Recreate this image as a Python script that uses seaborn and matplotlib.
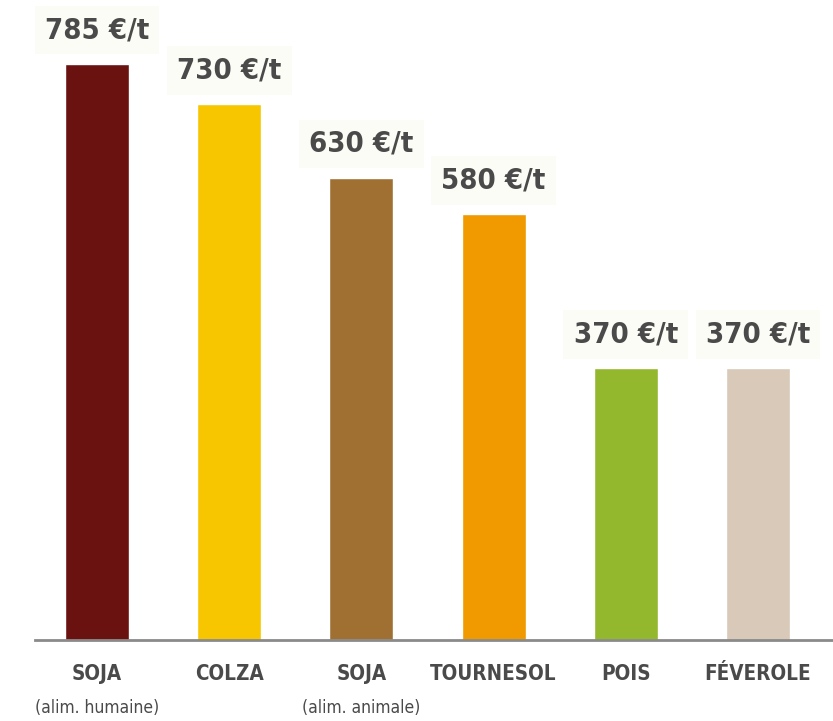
import numpy as np
import pandas as pd
import matplotlib
matplotlib.use("Agg")
import matplotlib.pyplot as plt
import matplotlib.transforms as mtransforms
import matplotlib.patheffects as pe
from matplotlib import font_manager
import seaborn as sns

# prix des cultures, en euros par tonne
cultures = ["SOJA", "COLZA", "SOJA ", "TOURNESOL", "POIS", "FÉVEROLE"]
sous_titres = ["(alim. humaine)", "", "(alim. animale)", "", "", ""]
prix = [785, 730, 630, 580, 370, 370]
couleurs = ["#6a1210", "#f7c600", "#a07033", "#f09a00", "#93b82d", "#d8c9b9"]

sns.set_theme(style="white")
plt.rcParams["font.family"] = ["DejaVu Sans"]


# chercher une police etroite installee (gras si possible)
def poids(f):
    w = f.weight
    if isinstance(w, str):
        w = font_manager.weight_dict.get(w, 400)
    return w


etroites = [f for f in font_manager.fontManager.ttflist
            if any(k in (f.name + f.fname).lower() for k in ("narrow", "condensed"))
            and "italic" not in f.fname.lower() and f.style == "normal"]
grasses = [f for f in etroites if poids(f) >= 600]
normales = [f for f in etroites if poids(f) < 600]

faux_gras = []
if grasses:
    fp_gras = font_manager.FontProperties(fname=grasses[0].fname)
elif normales:
    fp_gras = font_manager.FontProperties(fname=normales[0].fname)
    faux_gras = [pe.withStroke(linewidth=1.3, foreground="#4a4a4a")]
else:
    fp_gras = font_manager.FontProperties(family="DejaVu Sans", weight="bold")
if normales:
    fp_norm = font_manager.FontProperties(fname=normales[0].fname)
else:
    fp_norm = font_manager.FontProperties(family="DejaVu Sans")

df = pd.DataFrame({"culture": cultures, "prix": prix})

fig = plt.figure(figsize=(8.33, 7.21), dpi=100)
ax = fig.add_axes([35 / 833, 81 / 721, 798 / 833, 640 / 721])

sns.barplot(data=df, x="culture", y="prix", hue="culture", palette=couleurs,
            width=0.485, saturation=1, legend=False, ax=ax)

ax.set_xlim(-0.469, 5.567)
ax.set_ylim(0, 872)
for s in ["top", "right", "left"]:
    ax.spines[s].set_visible(False)
ax.spines["bottom"].set_color("#8a8a8a")
ax.spines["bottom"].set_linewidth(2)
ax.set_yticks([])
ax.set_xticks([])
ax.set_xlabel("")
ax.set_ylabel("")

gris = "#4a4a4a"
for i, v in enumerate(prix):
    ax.text(i, v + 46, f"{v} €/t", ha="center", va="center", fontproperties=fp_gras,
            fontsize=21, color=gris, path_effects=faux_gras,
            bbox=dict(boxstyle="square,pad=0.35", fc="#fcfcf6", ec="none"))

trans = mtransforms.blended_transform_factory(ax.transData, fig.transFigure)
for i, (c, st) in enumerate(zip(cultures, sous_titres)):
    ax.text(i, 1 - 674 / 721, c.strip(), ha="center", va="center",
            fontproperties=fp_gras, fontsize=14.8, color=gris,
            path_effects=faux_gras, transform=trans)
    if st:
        ax.text(i, 1 - 708 / 721, st, ha="center", va="center",
                fontproperties=fp_norm, fontsize=12.5, color=gris, transform=trans)

fig.savefig("out.png", dpi=100)
